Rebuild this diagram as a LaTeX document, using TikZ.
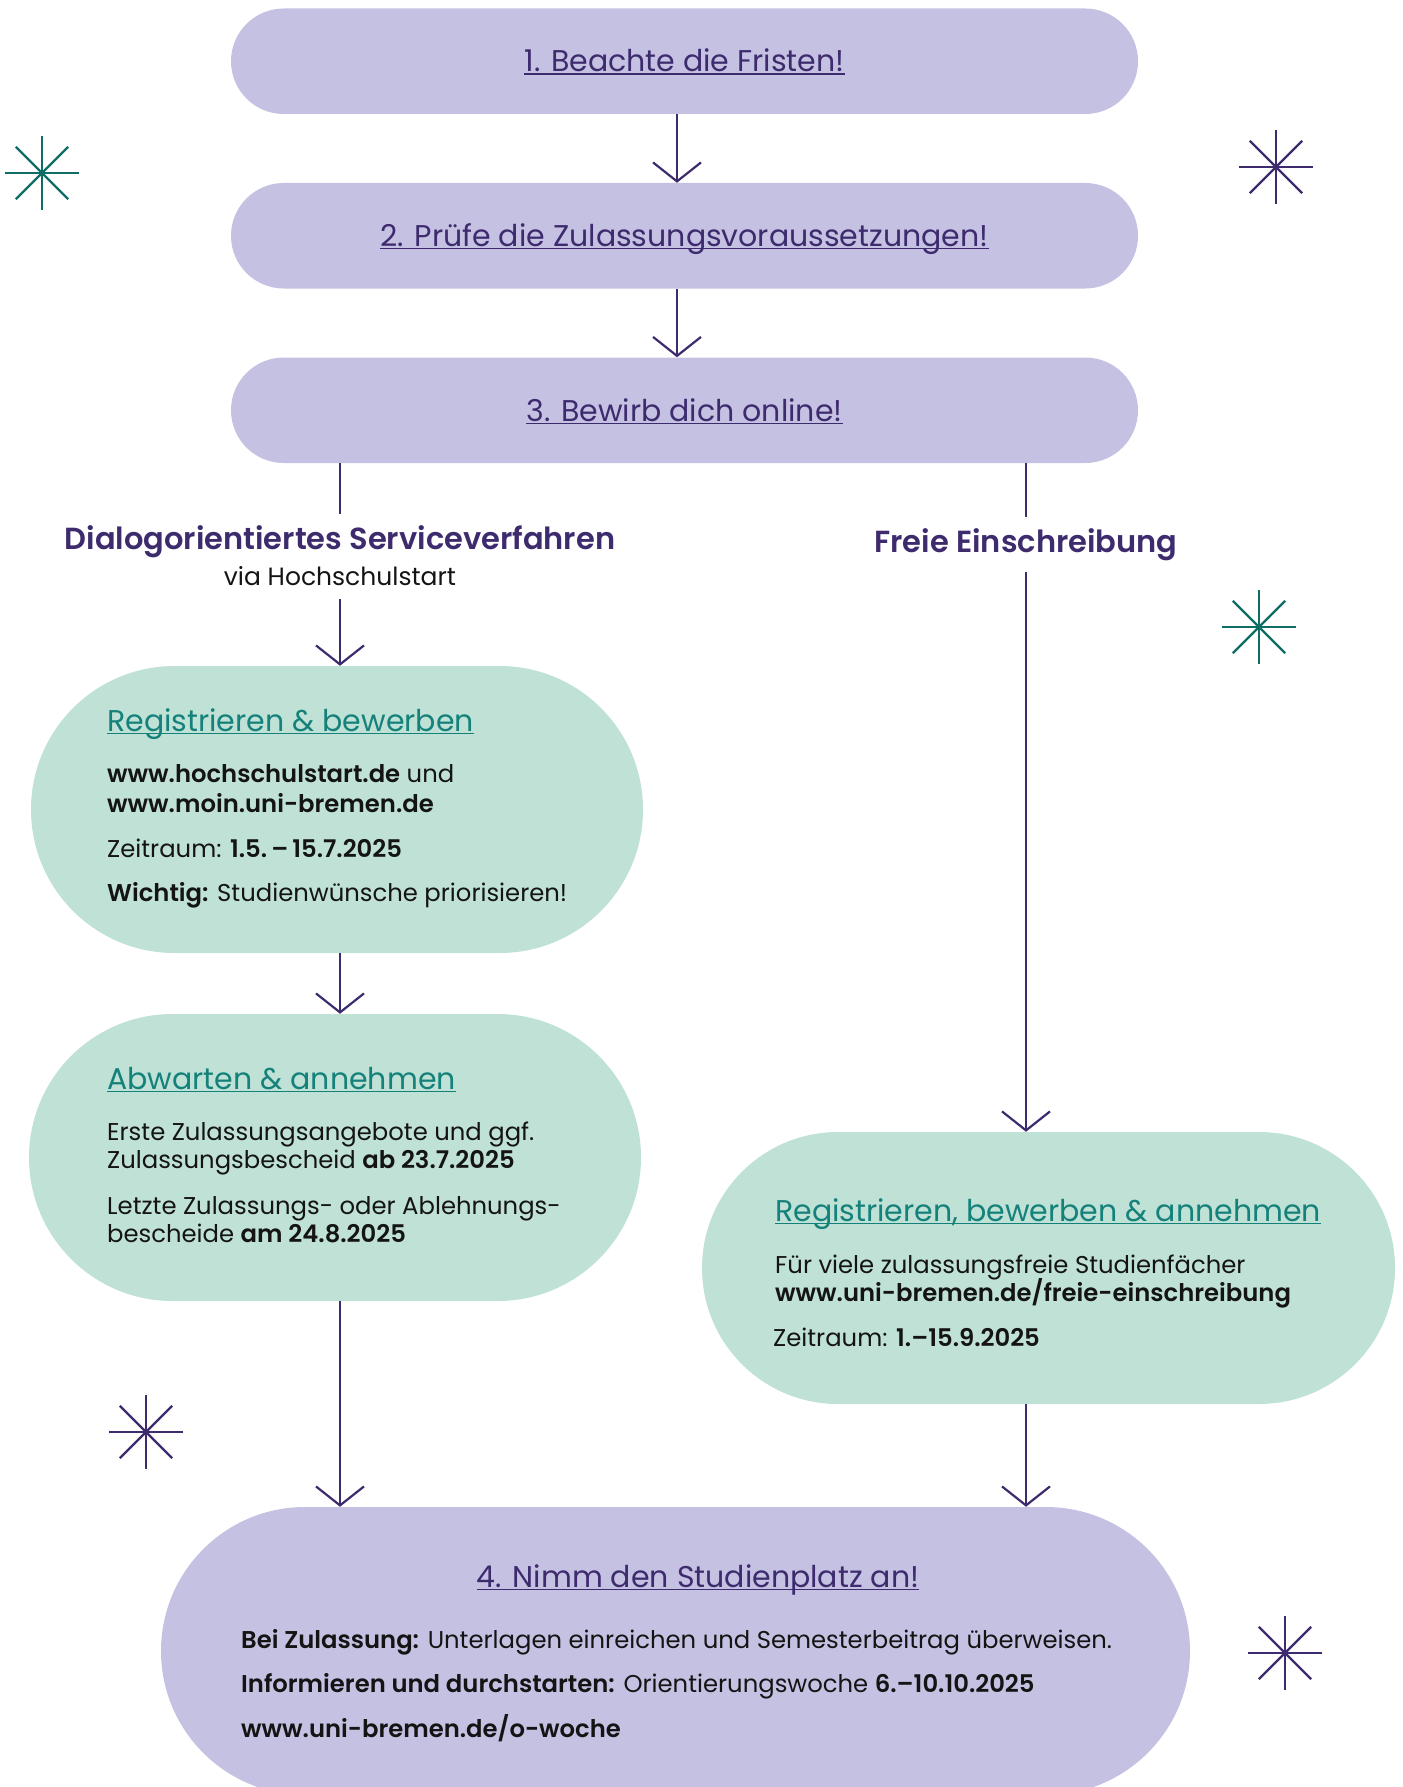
\documentclass[tikz,border=0pt]{standalone}
\usepackage{fontspec}
\setmainfont{Poppins}[BoldFont={Poppins SemiBold}]
\usetikzlibrary{arrows.meta}
\definecolor{lila}{HTML}{C5C1E2}
\definecolor{mint}{HTML}{BFE1D6}
\definecolor{dunkellila}{HTML}{3D2B6E}
\definecolor{petrol}{HTML}{14817A}
\definecolor{sterngruen}{HTML}{0E6E66}
\definecolor{schwarz}{HTML}{141414}
\newsavebox\strichbox
\newcommand{\unterstrichen}[1]{\sbox\strichbox{#1}\rlap{\rule[-3pt]{\wd\strichbox}{1.5pt}}\usebox\strichbox}

\begin{document}
\begin{tikzpicture}[x=1pt,y=-1pt,
		pill/.style={fill=lila, rounded corners=52.75pt, minimum width=907pt, minimum height=105.5pt, inner sep=0pt, text=dunkellila, font=\fontsize{30}{36}\selectfont, text height=25pt, text depth=3.5pt},
		blob/.style={fill=mint, inner sep=0pt},
		linie/.style={dunkellila, line width=2.2pt},
		pfeil/.style={linie, -{Straight Barb[length=19pt,width=48pt]}},
		titel/.style={anchor=base west, inner sep=0pt, text=petrol, font=\fontsize{30}{36}\selectfont},
		zeile/.style={anchor=base west, inner sep=0pt, text=schwarz, font=\fontsize{24.3}{29}\selectfont},
		kopf/.style={anchor=base, inner xsep=0pt, inner ysep=11pt, text=dunkellila, font=\bfseries\fontsize{30.5}{37}\selectfont}]
			\useasboundingbox (0,0) rectangle (1402,1787);
			\clip (0,0) rectangle (1402,1787);
			% Schritte 1 bis 3
			\node[pill] (b1) at (684.5,61.25) {\unterstrichen{1. Beachte die Fristen!}};
			\node[pill] (b2) at (684.5,235.75) {\unterstrichen{2. Prüfe die Zulassungsvoraussetzungen!}};
			\node[pill] (b3) at (684.5,410.25) {\unterstrichen{3. Bewirb dich online!}};
			% Kaesten
			\node[blob, minimum width=612pt, minimum height=287pt, rounded corners=143.5pt] (regA) at (337,809.5) {};
			\node[blob, minimum width=612pt, minimum height=287pt, rounded corners=143.5pt] (warten) at (335,1157.5) {};
			\node[blob, minimum width=693pt, minimum height=272pt, rounded corners=136pt] (frei) at (1048.5,1268) {};
			\node[fill=lila, inner sep=0pt, minimum width=1029pt, minimum height=288pt, rounded corners=144pt] (platz) at (675.5,1651) {};
			% Ueberschriften der Wege
			\node[kopf] (dso) at (340,549) {Dialogorientiertes Serviceverfahren};
			\node[anchor=base, inner xsep=0pt, inner ysep=14pt, text=schwarz, font=\fontsize{25}{30}\selectfont] (via) at (340,585) {via Hochschulstart};
			\node[kopf] (fe) at (1026,552) {Freie Einschreibung};
			% Pfeile
			\draw[pfeil] ([xshift=-7.5pt]b1.south) -- ([xshift=-7.5pt]b2.north);
			\draw[pfeil] ([xshift=-7.5pt]b2.south) -- ([xshift=-7.5pt]b3.north);
			\draw[linie] (b3.south -| dso) -- (dso.north);
			\draw[linie] (b3.south -| fe) -- (fe.north);
			\draw[pfeil] (via.south) -- (via.south |- regA.north);
			\draw[pfeil] (regA.south -| via) -- (warten.north -| via);
			\draw[pfeil] (warten.south -| via) -- (platz.north -| via);
			\draw[pfeil] (fe.south) -- (fe.south |- frei.north);
			\draw[pfeil] (frei.south -| fe) -- (platz.north -| fe);
			% Registrieren & bewerben
			\node[titel] (tA) at (107,731) {\unterstrichen{Registrieren \& bewerben}};
			\node[zeile] (a1) at (107,782) {\textbf{www.hochschulstart.de} und};
			\node[zeile] (a2) at (107,812) {\textbf{www.moin.uni-bremen.de}};
			\node[zeile] (a3) at (107,857) {Zeitraum: \textbf{1.5.\,–\,15.7.2025}};
			\node[zeile] (a4) at (107,901) {\textbf{Wichtig:} Studienwünsche priorisieren!};
			% Abwarten & annehmen
			\node[titel] (tB) at (107,1089) {\unterstrichen{Abwarten \& annehmen}};
			\node[zeile] (w1) at (107,1140) {Erste Zulassungsangebote und ggf.};
			\node[zeile] (w2) at (107,1168) {Zulassungsbescheid \textbf{ab 23.7.2025}};
			\node[zeile] (w3) at (107,1214) {Letzte Zulassungs- oder Ablehnungs-};
			\node[zeile] (w4) at (107,1242) {bescheide \textbf{am 24.8.2025}};
			% Freie Einschreibung
			\node[titel] (tC) at (775,1221) {\unterstrichen{Registrieren, bewerben \& annehmen}};
			\node[zeile] (f1) at (775,1273) {Für viele zulassungsfreie Studienfächer};
			\node[zeile] (f2) at (775,1301) {\textbf{www.uni-bremen.de/freie-einschreibung}};
			\node[zeile] (f3) at (773,1346) {Zeitraum: \textbf{1.–15.9.2025}};
			% Schritt 4
			\node[anchor=base, inner sep=0pt, text=dunkellila, font=\fontsize{30}{36}\selectfont] (tD) at (698,1587) {\unterstrichen{4. Nimm den Studienplatz an!}};
			\node[zeile] (p1) at (241,1648) {\textbf{Bei Zulassung:} Unterlagen einreichen und Semesterbeitrag überweisen.};
			\node[zeile] (p2) at (241,1692) {\textbf{Informieren und durchstarten:} Orientierungswoche \textbf{6.–10.10.2025}};
			\node[zeile] (p3) at (241,1737) {\textbf{www.uni-bremen.de/o-woche}};
			% Sterne
			\foreach \sx/\sy/\farbe in {42/173/sterngruen, 1276/167/dunkellila, 1259/627/sterngruen, 146/1432/dunkellila, 1285/1653/dunkellila}
				\foreach \w in {0,45,90,135}
					\draw[\farbe, line width=2.2pt] (\sx,\sy) ++(\w:37) -- ++(\w+180:74);
		\end{tikzpicture}
\end{document}
